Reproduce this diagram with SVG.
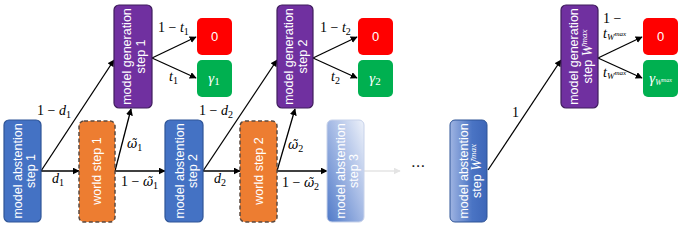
<svg xmlns="http://www.w3.org/2000/svg" width="680" height="230" viewBox="0 0 680 230">
<defs>
<style>
.abs{fill:#4472c4;stroke:#2f5597;stroke-width:1.2}
.gen{fill:#7030a0;stroke:#3f1d5c;stroke-width:1.2}
.wld{fill:#ed7d31;stroke:#5b4a40;stroke-width:1.5;stroke-dasharray:4 2.5}
.red{fill:#ff0000}
.grn{fill:#00b050}
.bt{font-family:"Liberation Sans",Arial,sans-serif;font-size:12.5px;fill:#fff;text-anchor:middle}
.m{font-family:"Liberation Serif","Times New Roman",serif;font-size:14px;fill:#000}
.mi{font-style:italic}
.om{font-family:"DejaVu Serif",serif;font-style:italic;font-size:12.5px}
.edge{stroke:#000;stroke-width:1.3;fill:none;marker-end:url(#ah)}
.ow{font-family:"Liberation Sans",Arial,sans-serif;font-size:13px;fill:#fff;text-anchor:middle}
.gw{font-family:"Liberation Serif","Times New Roman",serif;font-style:italic;font-size:15px;fill:#fff;text-anchor:middle}
</style>
<marker id="ah" viewBox="0 0 10 10" refX="9" refY="5" markerWidth="7" markerHeight="7" markerUnits="userSpaceOnUse" orient="auto">
<path d="M0,0 L10,5 L0,10 z" fill="#000"/>
</marker>
<marker id="ahf" viewBox="0 0 10 10" refX="9" refY="5" markerWidth="7" markerHeight="7" markerUnits="userSpaceOnUse" orient="auto">
<path d="M0,0 L10,5 L0,10 z" fill="#e4e4e4"/>
</marker>
<linearGradient id="fade3" x1="0" y1="1" x2="1" y2="0">
<stop offset="0" stop-color="#4f79c8"/>
<stop offset="0.55" stop-color="#a9bde6"/>
<stop offset="1" stop-color="#eef2fa"/>
</linearGradient>
<linearGradient id="fadeW" x1="0" y1="0" x2="1" y2="0">
<stop offset="0" stop-color="#9fb4e2"/>
<stop offset="0.6" stop-color="#4a74c4"/>
<stop offset="1" stop-color="#3d66b8"/>
</linearGradient>
</defs>
<rect width="680" height="230" fill="#fff"/>

<g id="connectors">
<line class="edge" x1="41" y1="171" x2="79" y2="171"/>
<line class="edge" x1="41" y1="171" x2="114" y2="60"/>
<line class="edge" x1="115" y1="171" x2="131" y2="109"/>
<line class="edge" x1="115" y1="171" x2="165" y2="171"/>
<line class="edge" x1="152" y1="58" x2="196" y2="37"/>
<line class="edge" x1="152" y1="58" x2="196" y2="78"/>
<line class="edge" x1="203" y1="171" x2="240" y2="171"/>
<line class="edge" x1="203" y1="171" x2="277" y2="60"/>
<line class="edge" x1="277" y1="171" x2="295" y2="109"/>
<line class="edge" x1="277" y1="171" x2="327" y2="171"/>
<line class="edge" x1="313" y1="58" x2="357" y2="37"/>
<line class="edge" x1="313" y1="58" x2="357" y2="78"/>
<line x1="364" y1="171" x2="400" y2="171" stroke="#e4e4e4" stroke-width="1.3" marker-end="url(#ahf)"/>
<line class="edge" x1="488" y1="170" x2="561" y2="60"/>
<line class="edge" x1="598" y1="58" x2="642" y2="37"/>
<line class="edge" x1="598" y1="58" x2="642" y2="78"/>

<text class="m" x="37" y="115">1 − <tspan class="mi">d</tspan><tspan font-size="10" dy="3">1</tspan></text>
<text class="m" x="52" y="183"><tspan class="mi">d</tspan><tspan font-size="10" dy="3">1</tspan></text>
<text class="m" x="127" y="148"><tspan class="om">ω̃</tspan><tspan font-size="10" dy="3">1</tspan></text>
<text class="m" x="121" y="186">1 − <tspan class="om">ω̃</tspan><tspan font-size="10" dy="3">1</tspan></text>
<text class="m" x="158" y="32">1 − <tspan class="mi">t</tspan><tspan font-size="10" dy="3">1</tspan></text>
<text class="m" x="169" y="81"><tspan class="mi">t</tspan><tspan font-size="10" dy="3">1</tspan></text>

<text class="m" x="199" y="115">1 − <tspan class="mi">d</tspan><tspan font-size="10" dy="3">2</tspan></text>
<text class="m" x="214" y="183"><tspan class="mi">d</tspan><tspan font-size="10" dy="3">2</tspan></text>
<text class="m" x="288" y="149"><tspan class="om">ω̃</tspan><tspan font-size="10" dy="3">2</tspan></text>
<text class="m" x="282" y="187">1 − <tspan class="om">ω̃</tspan><tspan font-size="10" dy="3">2</tspan></text>
<text class="m" x="320" y="32">1 − <tspan class="mi">t</tspan><tspan font-size="10" dy="3">2</tspan></text>
<text class="m" x="331" y="81"><tspan class="mi">t</tspan><tspan font-size="10" dy="3">2</tspan></text>

<text x="411" y="167" font-family="Liberation Sans,Arial,sans-serif" font-size="17" fill="#222">...</text>
<text class="m" x="512" y="117">1</text>
<text class="m" x="603" y="23">1 −</text>
<text class="m" x="603" y="38"><tspan class="mi">t</tspan><tspan class="mi" font-size="9" dy="2">W</tspan><tspan class="mi" font-size="7" dy="-4">max</tspan></text>
<text class="m" x="603" y="77"><tspan class="mi">t</tspan><tspan class="mi" font-size="9" dy="2">W</tspan><tspan class="mi" font-size="7" dy="-4">max</tspan></text>
</g>

<g id="abs1">
<rect class="abs" x="4" y="120" width="37" height="102" rx="5"/>
<text class="bt" transform="translate(22,171) rotate(-90)">model abstention</text>
<text class="bt" transform="translate(35,171) rotate(-90)">step 1</text>
</g>
<g id="world1">
<rect class="wld" x="79" y="121" width="36" height="101" rx="5"/>
<text class="bt" transform="translate(101,171) rotate(-90)">world step 1</text>
</g>
<g id="gen1">
<rect class="gen" x="114" y="5" width="38" height="103" rx="5"/>
<text class="bt" transform="translate(131,56.5) rotate(-90)">model generation</text>
<text class="bt" transform="translate(145,56.5) rotate(-90)">step 1</text>
</g>
<g id="zero1">
<rect class="red" x="197" y="18" width="35" height="37" rx="5"/>
<text class="ow" x="214.5" y="41">0</text>
</g>
<g id="gamma1">
<rect class="grn" x="197" y="60" width="35" height="37" rx="5"/>
<text class="gw" x="214" y="83">γ<tspan font-style="normal" font-size="11" dy="2">1</tspan></text>
</g>

<g id="abs2">
<rect class="abs" x="165" y="120" width="38" height="102" rx="5"/>
<text class="bt" transform="translate(184,171) rotate(-90)">model abstention</text>
<text class="bt" transform="translate(197,171) rotate(-90)">step 2</text>
</g>
<g id="world2">
<rect class="wld" x="240" y="121" width="37" height="101" rx="5"/>
<text class="bt" transform="translate(263,171) rotate(-90)">world step 2</text>
</g>
<g id="gen2">
<rect class="gen" x="277" y="5" width="36" height="103" rx="5"/>
<text class="bt" transform="translate(293,56.5) rotate(-90)">model generation</text>
<text class="bt" transform="translate(307,56.5) rotate(-90)">step 2</text>
</g>
<g id="zero2">
<rect class="red" x="358" y="18" width="35" height="37" rx="5"/>
<text class="ow" x="375.5" y="41">0</text>
</g>
<g id="gamma2">
<rect class="grn" x="358" y="60" width="35" height="37" rx="5"/>
<text class="gw" x="375" y="83">γ<tspan font-style="normal" font-size="11" dy="2">2</tspan></text>
</g>

<g id="abs3">
<rect x="327" y="120" width="37" height="102" rx="5" fill="url(#fade3)" stroke="#c7d2ea" stroke-width="1"/>
<text class="bt" transform="translate(345,171) rotate(-90)">model abstention</text>
<text class="bt" transform="translate(358,171) rotate(-90)">step 3</text>
</g>

<g id="absW">
<rect x="450" y="120" width="37" height="102" rx="5" fill="url(#fadeW)" stroke="#2f5597" stroke-width="1"/>
<text class="bt" transform="translate(468,171) rotate(-90)">model abstention</text>
<text class="bt" transform="translate(481,171) rotate(-90)">step <tspan font-family="Liberation Serif,serif" font-style="italic" font-size="14">W</tspan><tspan font-family="Liberation Serif,serif" font-style="italic" font-size="9" dy="-5">max</tspan></text>
</g>
<g id="genW">
<rect class="gen" x="561" y="5" width="37" height="103" rx="5"/>
<text class="bt" transform="translate(578,56.5) rotate(-90)">model generation</text>
<text class="bt" transform="translate(592,56.5) rotate(-90)">step <tspan font-family="Liberation Serif,serif" font-style="italic" font-size="14">W</tspan><tspan font-family="Liberation Serif,serif" font-style="italic" font-size="9" dy="-5">max</tspan></text>
</g>
<g id="zeroW">
<rect class="red" x="643" y="18" width="35" height="37" rx="5"/>
<text class="ow" x="660.5" y="41">0</text>
</g>
<g id="gammaW">
<rect class="grn" x="643" y="60" width="35" height="37" rx="5"/>
<text class="gw" x="660.5" y="83">γ<tspan font-size="8" dy="2">W</tspan><tspan font-size="6" dy="-3">max</tspan></text>
</g>
</svg>
